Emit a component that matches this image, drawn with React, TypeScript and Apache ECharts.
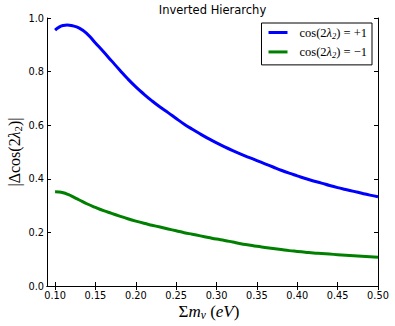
import { useEffect, useRef } from "react";
import * as echarts from "echarts";

const massEV = [
  0.1, 0.105, 0.11, 0.115, 0.12, 0.13, 0.14, 0.15, 0.16, 0.17, 0.18, 0.19, 0.2,
  0.21, 0.22, 0.23, 0.24, 0.25, 0.26, 0.27, 0.28, 0.29, 0.3, 0.31, 0.32, 0.33,
  0.34, 0.35, 0.36, 0.37, 0.38, 0.39, 0.4, 0.41, 0.42, 0.43, 0.44, 0.45, 0.46,
  0.47, 0.48, 0.49, 0.5,
];
const dcosPlus = [
  0.955, 0.966, 0.972, 0.974, 0.972, 0.962, 0.94, 0.907, 0.874, 0.84, 0.806,
  0.773, 0.743, 0.716, 0.691, 0.668, 0.647, 0.625, 0.604, 0.585, 0.567, 0.55,
  0.534, 0.519, 0.505, 0.492, 0.48, 0.468, 0.456, 0.444, 0.432, 0.421, 0.411,
  0.401, 0.392, 0.384, 0.375, 0.367, 0.36, 0.353, 0.346, 0.339, 0.333,
];
const dcosMinus = [
  0.352, 0.351, 0.348, 0.343, 0.336, 0.321, 0.306, 0.293, 0.281, 0.271, 0.261,
  0.251, 0.242, 0.234, 0.227, 0.22, 0.213, 0.206, 0.199, 0.193, 0.187, 0.181,
  0.175, 0.17, 0.164, 0.158, 0.153, 0.148, 0.144, 0.14, 0.136, 0.132, 0.129,
  0.126, 0.123, 0.121, 0.119, 0.117, 0.115, 0.113, 0.111, 0.109, 0.107,
];
const xTicks = [0.1, 0.15, 0.2, 0.25, 0.3, 0.35, 0.4, 0.45, 0.5];
const seriesNames = ["cos(2λ2) = +1", "cos(2λ2) = −1"];
const legendRich = [
  "{n|cos(2}{i|λ}{s|2}{n|) = +1}",
  "{n|cos(2}{i|λ}{s|2}{n|) = −1}",
];
const titleText = "Inverted Hierarchy";

const SERIF = "'Liberation Serif', 'DejaVu Serif', serif";
const SANS = "'DejaVu Sans', sans-serif";

export default function App() {
  const ref = useRef<HTMLDivElement>(null);
  useEffect(() => {
    if (!ref.current) return;
    const chart = echarts.init(ref.current, undefined, { renderer: "svg" });
    const axisLine = { show: true, lineStyle: { color: "#000", width: 1 } };
    const tick = {
      show: true,
      inside: true,
      length: 4,
      lineStyle: { color: "#000", width: 1 },
    };
    const mathRich = (size: number) => ({
      n: { fontFamily: SERIF, fontSize: size, color: "#000" },
      i: { fontFamily: SERIF, fontSize: size, fontStyle: "italic", color: "#000" },
      s: {
        fontFamily: SERIF,
        fontSize: size * 0.68,
        fontStyle: "italic",
        color: "#000",
        padding: [size * 0.55, 0, 0, 0],
      },
      u: { fontFamily: SERIF, fontSize: size * 0.68, color: "#000", padding: [size * 0.55, 0, 0, 0] },
    });
    chart.setOption({
      animation: false,
      backgroundColor: "#fff",
      grid: { left: 47, right: 17, top: 18, bottom: 40 },
      legend: {
        orient: "vertical",
        right: 23,
        top: 23,
        data: seriesNames,
        icon: "rect",
        itemWidth: 19,
        itemHeight: 3,
        itemGap: 5,
        padding: [3, 5, 5, 7],
        borderColor: "#000",
        borderWidth: 1,
        borderRadius: 0,
        backgroundColor: "#fff",
        formatter: (name: string) => legendRich[seriesNames.indexOf(name)],
        textStyle: { padding: [0, 0, 0, 7], rich: mathRich(12.5) },
      },
      xAxis: [
        {
          type: "value",
          min: 0.09,
          max: 0.5,
          axisLine,
          axisTick: { ...tick, customValues: xTicks },
          splitLine: { show: false },
          axisLabel: {
            customValues: xTicks,
            formatter: (v: number) => v.toFixed(2),
            fontFamily: SANS,
            fontSize: 9.8,
            color: "#000",
            margin: 4,
          },
        },
        {
          type: "value",
          position: "top",
          min: 0.09,
          max: 0.5,
          axisLine,
          axisTick: { ...tick, customValues: xTicks },
          splitLine: { show: false },
          axisLabel: { show: false },
        },
      ],
      yAxis: [
        {
          type: "value",
          min: 0,
          max: 1,
          interval: 0.2,
          axisLine,
          axisTick: tick,
          splitLine: { show: false },
          axisLabel: {
            formatter: (v: number) => v.toFixed(1),
            fontFamily: SANS,
            fontSize: 9.8,
            color: "#000",
            margin: 3,
          },
        },
        {
          type: "value",
          position: "right",
          min: 0,
          max: 1,
          interval: 0.2,
          axisLine,
          axisTick: tick,
          splitLine: { show: false },
          axisLabel: { show: false },
        },
      ],
      series: [
        {
          name: seriesNames[0],
          type: "line",
          data: massEV.map((x, k) => [x, dcosPlus[k]]),
          showSymbol: false,
          smooth: 0.5,
          lineStyle: { color: "#0000ff", width: 3 },
          itemStyle: { color: "#0000ff" },
        },
        {
          name: seriesNames[1],
          type: "line",
          data: massEV.map((x, k) => [x, dcosMinus[k]]),
          showSymbol: false,
          smooth: 0.5,
          lineStyle: { color: "#008000", width: 3 },
          itemStyle: { color: "#008000" },
        },
      ],
      graphic: [
        {
          type: "text",
          x: 212.5,
          y: 4,
          z: 100,
          style: {
            text: titleText,
            fontFamily: SANS,
            fontSize: 11.5,
            fill: "#000",
            align: "center",
            verticalAlign: "top",
          },
        },
        {
          type: "text",
          x: 209,
          y: 311,
          style: {
            text: "{n|Σ}{i|m}{s|ν}{n| (}{i|eV}{n|)}",
            rich: mathRich(17),
            align: "center",
            verticalAlign: "middle",
          },
        },
        {
          type: "text",
          x: 14,
          y: 152,
          rotation: Math.PI / 2,
          style: {
            text: "{n||Δcos(2}{i|λ}{u|2}{n|)|}",
            rich: mathRich(16),
            align: "center",
            verticalAlign: "middle",
          },
        },
      ],
    });
    return () => chart.dispose();
  }, []);
  return (
    <div
      ref={ref}
      style={{ position: "absolute", left: 0, top: 0, width: 395, height: 326 }}
    />
  );
}
